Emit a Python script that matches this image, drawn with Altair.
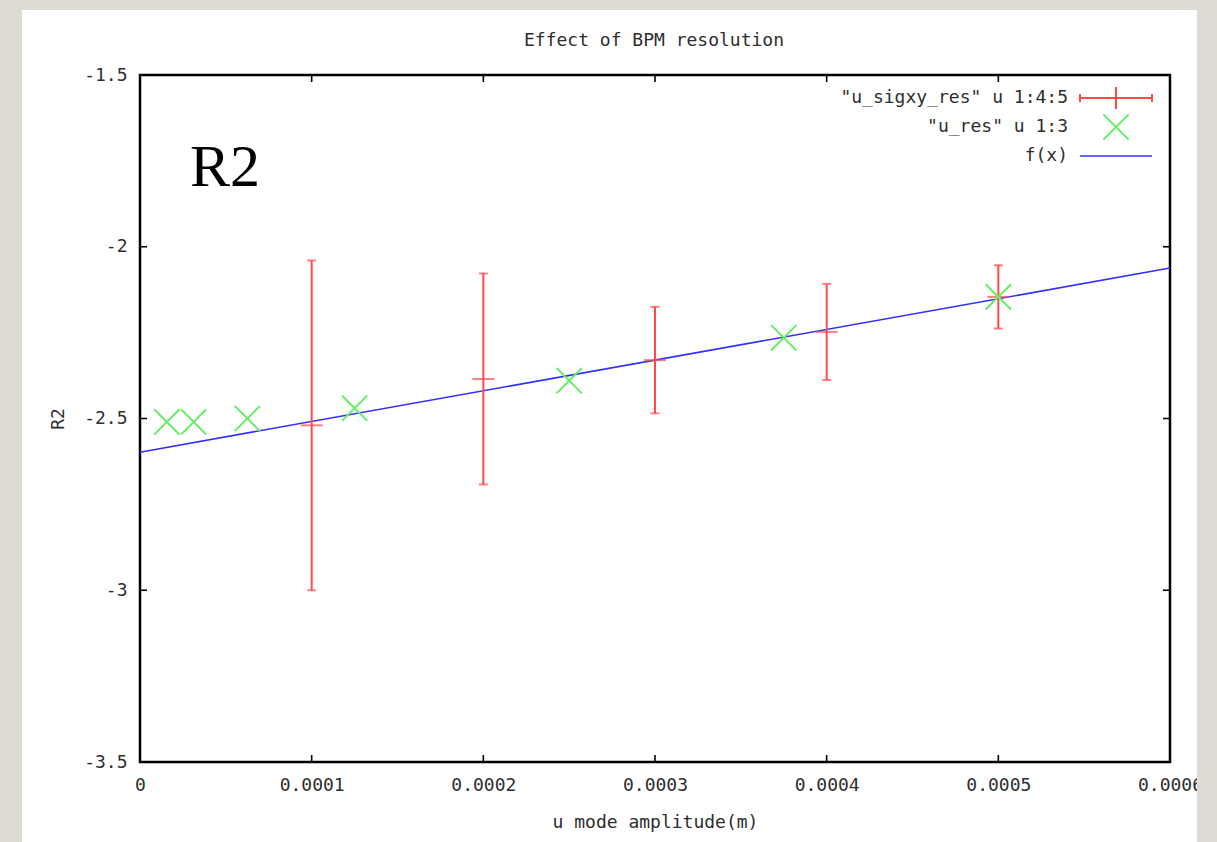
import altair as alt
import pandas as pd

# ---- data ----
eb_x = [0.0001, 0.0002, 0.0003, 0.0004, 0.0005]
eb_y = [-2.52, -2.385, -2.33, -2.248, -2.146]
eb_err = [0.48, 0.307, 0.155, 0.14, 0.092]

res_x = [0.000015625, 0.00003125, 0.0000625, 0.000125, 0.00025, 0.000375, 0.0005]
res_y = [-2.51, -2.51, -2.50, -2.47, -2.39, -2.265, -2.146]

fx_x = [0.0, 0.0006]
fx_y = [-2.598, -2.062]

x_ticks = [0, 0.0001, 0.0002, 0.0003, 0.0004, 0.0005, 0.0006]
y_ticks = [-1.5, -2, -2.5, -3, -3.5]

legend_labels = ['"u_sigxy_res" u 1:4:5', '"u_res" u 1:3', 'f(x)']

title_text = "Effect of BPM resolution"
x_title = "u mode amplitude(m)"
y_title = "R2"
note_text = "R2"

FONT = "DejaVu Sans Mono"
FS = 18
TXT = "#2e2e2e"
RED = "#ff4a4a"
GREEN = "#66ee66"
BLUE = "#3030ff"
GRAY = "#dedbd5"

W, H = 1030, 687

eb = pd.DataFrame({"x": eb_x, "y": eb_y, "err": eb_err})
res = pd.DataFrame({"x": res_x, "y": res_y})
fx = pd.DataFrame({"x": fx_x, "y": fx_y})
xt = pd.DataFrame({"v": x_ticks})
yt = pd.DataFrame({"v": y_ticks})
leg = pd.DataFrame({"label": legend_labels, "i": list(range(len(legend_labels)))})
one = pd.DataFrame({"d": [0]})

xs = alt.Scale(domain=[0, 0.0006], nice=False, zero=False)
ys = alt.Scale(domain=[-3.5, -1.5], nice=False, zero=False)

X = alt.X("x:Q", scale=xs, axis=alt.Axis(
    values=x_ticks, labelExpr="'' + datum.value", title=x_title,
    ticks=False, tickSize=0, domain=False, grid=False,
    labelFont=FONT, labelFontSize=FS, labelColor=TXT, labelPadding=14,
    titleFont=FONT, titleFontSize=FS, titleFontWeight="normal", titleColor=TXT,
    titlePadding=19, labelFlush=False))
Y = alt.Y("y:Q", scale=ys, axis=alt.Axis(
    values=y_ticks, labelExpr="'' + datum.value", title=y_title,
    ticks=False, tickSize=0, domain=False, grid=False,
    labelFont=FONT, labelFontSize=FS, labelColor=TXT, labelPadding=13,
    titleFont=FONT, titleFontSize=FS, titleFontWeight="normal", titleColor=TXT,
    titlePadding=16))

# blue fit line
line = alt.Chart(fx).mark_line(color=BLUE, strokeWidth=1.6).encode(x=X, y=Y)

# red error bars
base_eb = alt.Chart(eb).transform_calculate(lo="datum.y - datum.err", hi="datum.y + datum.err")
bars = base_eb.mark_rule(color=RED, strokeWidth=2).encode(
    x=alt.X("x:Q", scale=xs), y=alt.Y("lo:Q", scale=ys), y2="hi:Q")
cap_lo = base_eb.mark_tick(color=RED, orient="horizontal", size=9, thickness=2).encode(
    x=alt.X("x:Q", scale=xs), y=alt.Y("lo:Q", scale=ys))
cap_hi = base_eb.mark_tick(color=RED, orient="horizontal", size=9, thickness=2).encode(
    x=alt.X("x:Q", scale=xs), y=alt.Y("hi:Q", scale=ys))
center = alt.Chart(eb).mark_tick(color=RED, orient="horizontal", size=22, thickness=2).encode(
    x=alt.X("x:Q", scale=xs), y=alt.Y("y:Q", scale=ys))

XSHAPE = "M-1,-1L1,1M-1,1L1,-1"
pts = alt.Chart(res).mark_point(shape=XSHAPE, size=640, color=GREEN, strokeWidth=2,
                                filled=False, opacity=1).encode(
    x=alt.X("x:Q", scale=xs), y=alt.Y("y:Q", scale=ys))

# inward frame ticks (mirror on all four sides)
tk = dict(color="black", strokeWidth=1.6)
xb = alt.Chart(xt).mark_rule(**tk).encode(x=alt.X("v:Q", scale=xs), y=alt.value(H - 7), y2=alt.value(H))
xtop = alt.Chart(xt).mark_rule(**tk).encode(x=alt.X("v:Q", scale=xs), y=alt.value(0), y2=alt.value(7))
yl = alt.Chart(yt).mark_rule(**tk).encode(y=alt.Y("v:Q", scale=ys), x=alt.value(0), x2=alt.value(7))
yr = alt.Chart(yt).mark_rule(**tk).encode(y=alt.Y("v:Q", scale=ys), x=alt.value(W - 7), x2=alt.value(W))

# legend (gnuplot style: text left, sample right)
LX_T, LX0, LX1, LXC = 928, 940, 1012, 976
leg_base = alt.Chart(leg).transform_calculate(py="23 + datum.i * 29")
leg_txt = leg_base.mark_text(font=FONT, fontSize=FS, color=TXT, align="right", baseline="middle").encode(
    x=alt.value(LX_T), y=alt.Y("py:Q", scale=None), text="label:N")
leg_red_h = alt.Chart(one).mark_rule(color=RED, strokeWidth=2).encode(
    x=alt.value(LX0), x2=alt.value(LX1), y=alt.value(23))
leg_red_v = alt.Chart(one).mark_rule(color=RED, strokeWidth=2).encode(
    x=alt.value(LXC), y=alt.value(12), y2=alt.value(34))
leg_red_c1 = alt.Chart(one).mark_rule(color=RED, strokeWidth=2).encode(
    x=alt.value(LX0), y=alt.value(19), y2=alt.value(27))
leg_red_c2 = alt.Chart(one).mark_rule(color=RED, strokeWidth=2).encode(
    x=alt.value(LX1), y=alt.value(19), y2=alt.value(27))
leg_green = alt.Chart(one).mark_point(shape=XSHAPE, size=640, color=GREEN, strokeWidth=2,
                                      filled=False, opacity=1).encode(
    x=alt.value(LXC), y=alt.value(52))
leg_blue = alt.Chart(one).mark_rule(color=BLUE, strokeWidth=1.6).encode(
    x=alt.value(LX0), x2=alt.value(LX1), y=alt.value(81))

# big serif annotation
note = alt.Chart(one).mark_text(text=note_text, font="Liberation Serif", fontSize=60,
                                color="black", align="left", baseline="alphabetic").encode(
    x=alt.value(50), y=alt.value(111))

# title
title = alt.Chart(one).mark_text(text=title_text, font=FONT, fontSize=FS, color=TXT,
                                 align="center", baseline="middle").encode(
    x=alt.value(W / 2 - 1), y=alt.value(-34))

# slide background strips around the white panel
strip_l = alt.Chart(one).mark_rect(color=GRAY).encode(
    x=alt.value(-140), x2=alt.value(-118), y=alt.value(-75), y2=alt.value(767))
strip_r = alt.Chart(one).mark_rect(color=GRAY).encode(
    x=alt.value(1057), x2=alt.value(1077), y=alt.value(-75), y2=alt.value(767))
strip_t = alt.Chart(one).mark_rect(color=GRAY).encode(
    x=alt.value(-140), x2=alt.value(1077), y=alt.value(-75), y2=alt.value(-65))

chart = alt.layer(
    line, bars, cap_lo, cap_hi, center, pts,
    xb, xtop, yl, yr,
    leg_txt, leg_red_h, leg_red_v, leg_red_c1, leg_red_c2, leg_green, leg_blue,
    note, title, strip_l, strip_r, strip_t,
).properties(
    width=W, height=H,
    autosize=alt.AutoSizeParams(type="none"),
    padding={"left": 140, "top": 75, "right": 47, "bottom": 80},
    background="white",
).configure_view(
    stroke="black", strokeWidth=2.5, fill="white"
)

chart.save("out.html", embed_options={"renderer": "svg", "actions": False})
